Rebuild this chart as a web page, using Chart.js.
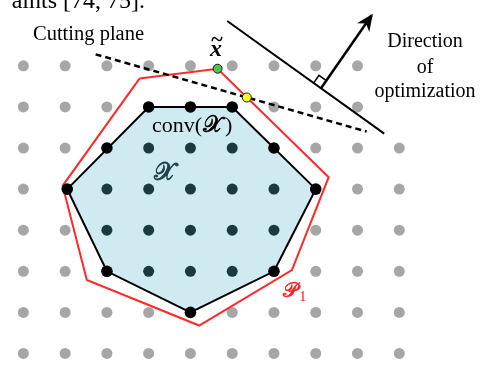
<!DOCTYPE html>
<html>
<head>
<meta charset="utf-8">
<script src="https://cdn.jsdelivr.net/npm/chart.js@4.4.0/dist/chart.umd.min.js"></script>
<style>
  html, body { margin: 0; padding: 0; background: #ffffff; }
  canvas { display: block; }
</style>
</head>
<body>
<canvas id="c" width="480" height="367"></canvas>
<script>
// Integer lattice, (column, row) with rows counted downward.
const outsidePoints = [
  [0,0],[1,0],[2,0],[3,0],[4,0],[5,0],[6,0],[7,0],[8,0],
  [0,1],[1,1],[2,1],[6,1],[7,1],[8,1],
  [0,2],[1,2],[7,2],[8,2],[9,2],
  [0,3],[8,3],[9,3],
  [0,4],[1,4],[7,4],[8,4],[9,4],
  [0,5],[1,5],[7,5],[8,5],[9,5],
  [0,6],[1,6],[2,6],[3,6],[5,6],[6,6],[7,6],[8,6],[9,6],
  [0,7],[1,7],[2,7],[3,7],[4,7],[5,7],[6,7],[7,7],[8,7],[9,7]
];
// Feasible integer points strictly inside the hull
const interiorPoints = [
  [3,2],[4,2],[5,2],
  [2,3],[3,3],[4,3],[5,3],[6,3],
  [2,4],[3,4],[4,4],[5,4],[6,4],
  [3,5],[4,5],[5,5]
];
// Feasible integer points on the boundary of conv(X)
const boundaryPoints = [[3,1],[4,1],[5,1],[6,2],[7,3],[6,5],[4,6],[2,5],[1.05,3],[2,2]];

// conv(X) outline (closed)
const hullX = [3, 5, 7, 6, 4, 2, 1.05, 3];
const hullY = [1, 1, 3, 5, 6, 5, 3, 1];

// LP relaxation polytope P1 (closed)
const relaxX = [2.78, 4.65, 7.31, 6.43, 4.21, 1.52, 0.94, 2.78];
const relaxY = [0.31, 0.07, 2.71, 4.97, 6.32, 5.21, 2.92, 0.31];

// LP optimum x~ and the point where the cut meets P1
const lpOptimum = [4.65, 0.07];
const cutHit = [5.35, 0.77];

// Cutting plane, objective level line, optimization direction
const cutX = [1.73, 8.22];
const cutY = [-0.28, 1.60];
const levelX = [4.88, 8.64];
const levelY = [-1.09, 1.65];
const arrowX = [7.13, 8.34];
const arrowY = [0.54, -1.23];

const pairs = arr => arr.map(([x, y]) => ({x, y}));
const zipXY = (xs, ys) => xs.map((x, i) => ({x, y: ys[i]}));

const SERIF = '"Liberation Serif", "DejaVu Serif", serif';
const MATH = '"DejaVu Serif", "DejaVu Sans", "Liberation Serif", serif';

const annotations = {
  id: 'annotations',
  afterDatasetsDraw(chart) {
    const ctx = chart.ctx;
    const sx = chart.scales.x, sy = chart.scales.y;
    const P = (x, y) => [sx.getPixelForValue(x), sy.getPixelForValue(y)];

    // arrow head
    const [bx, by] = P(arrowX[0], arrowY[0]);
    const [tx, ty] = P(arrowX[1], arrowY[1]);
    const ang = Math.atan2(ty - by, tx - bx);
    ctx.save();
    ctx.translate(tx, ty);
    ctx.rotate(ang);
    ctx.beginPath();
    ctx.moveTo(2, 0);
    ctx.lineTo(-15, -7.5);
    ctx.lineTo(-10, 0);
    ctx.lineTo(-15, 7.5);
    ctx.closePath();
    ctx.fillStyle = '#000';
    ctx.fill();
    ctx.restore();

    // right-angle mark between the level line and the direction
    const [lx, ly] = P(levelX[0], levelY[0]);
    let ux = lx - bx, uy = ly - by;
    let n = Math.hypot(ux, uy); ux /= n; uy /= n;
    let vx = tx - bx, vy = ty - by;
    n = Math.hypot(vx, vy); vx /= n; vy /= n;
    const s = 9;
    ctx.save();
    ctx.beginPath();
    ctx.moveTo(bx + s * ux, by + s * uy);
    ctx.lineTo(bx + s * ux + s * vx, by + s * uy + s * vy);
    ctx.lineTo(bx + s * vx, by + s * vy);
    ctx.strokeStyle = '#000';
    ctx.lineWidth = 1.5;
    ctx.stroke();
    ctx.restore();

    // labels
    ctx.save();
    ctx.fillStyle = '#000';
    ctx.textBaseline = 'alphabetic';
    ctx.textAlign = 'right';
    ctx.font = '24px ' + SERIF;
    ctx.fillText('aints [74, 75].', 145, 8);

    ctx.textAlign = 'left';
    ctx.font = '20.5px ' + SERIF;
    ctx.fillText('Cutting plane', 33, 40);

    ctx.textAlign = 'center';
    ctx.font = '20px ' + SERIF;
    ctx.fillText('Direction', 425, 47);
    ctx.fillText('of', 425, 73);
    ctx.fillText('optimization', 425, 97);

    // x~
    ctx.font = 'italic bold 24px ' + SERIF;
    ctx.fillText('x', 216, 56);
    ctx.font = 'bold 22px ' + SERIF;
    ctx.fillText('~', 217, 46);

    // conv(X)
    ctx.textAlign = 'left';
    ctx.font = '22px ' + SERIF;
    ctx.fillText('conv(', 152, 132);
    let w = ctx.measureText('conv(').width;
    ctx.font = '23px ' + MATH;
    ctx.strokeStyle = '#000';
    ctx.lineWidth = 0.6;
    ctx.fillText('\u{1D4B3}', 153 + w, 132);
    ctx.strokeText('\u{1D4B3}', 153 + w, 132);
    let w2 = ctx.measureText('\u{1D4B3}').width;
    ctx.font = '22px ' + SERIF;
    ctx.fillText(')', 155 + w + w2, 132);

    // X
    ctx.fillStyle = '#1d3f47';
    ctx.strokeStyle = '#1d3f47';
    ctx.lineWidth = 0.8;
    ctx.font = '25px ' + MATH;
    ctx.textAlign = 'center';
    ctx.fillText('\u{1D4B3}', 165, 180);
    ctx.strokeText('\u{1D4B3}', 165, 180);

    // P1
    ctx.fillStyle = '#ff2020';
    ctx.strokeStyle = '#ff2020';
    ctx.lineWidth = 0.6;
    ctx.textAlign = 'left';
    ctx.font = '21px ' + MATH;
    ctx.fillText('\u{1D4AB}', 283, 297);
    ctx.strokeText('\u{1D4AB}', 283, 297);
    ctx.font = '15px ' + SERIF;
    ctx.fillText('1', 299, 301);
    ctx.restore();
  }
};

new Chart(document.getElementById('c'), {
  type: 'scatter',
  data: {
    datasets: [
      { data: [ {x: lpOptimum[0], y: lpOptimum[1]} ], pointRadius: 4.5, pointBackgroundColor: '#55c24a',
        pointBorderColor: '#1a1a1a', pointBorderWidth: 1, showLine: false, order: 0 },
      { data: [ {x: cutHit[0], y: cutHit[1]} ], pointRadius: 4.5, pointBackgroundColor: '#ffff1a',
        pointBorderColor: '#1a1a1a', pointBorderWidth: 1, showLine: false, order: 1 },
      { data: pairs(boundaryPoints), pointRadius: 5.8, pointBackgroundColor: '#000000',
        pointBorderWidth: 0, showLine: false, order: 2 },
      { data: pairs(interiorPoints), pointRadius: 5.5, pointBackgroundColor: '#1b3a40',
        pointBorderWidth: 0, showLine: false, order: 3 },
      { data: zipXY(arrowX, arrowY), showLine: true, borderColor: '#000', borderWidth: 2.5,
        pointRadius: 0, order: 4 },
      { data: zipXY(levelX, levelY), showLine: true, borderColor: '#000', borderWidth: 2,
        pointRadius: 0, order: 5 },
      { data: zipXY(cutX, cutY), showLine: true, borderColor: '#000', borderWidth: 2.5,
        borderDash: [6, 4], pointRadius: 0, order: 6 },
      { data: zipXY(relaxX, relaxY), showLine: true, borderColor: '#ff2a2a', borderWidth: 2,
        pointRadius: 0, order: 7 },
      { data: zipXY(hullX, hullY), showLine: true, borderColor: '#000', borderWidth: 2,
        backgroundColor: '#cfeaf0', fill: 'shape', pointRadius: 0, order: 8 },
      { data: pairs(outsidePoints), pointRadius: 5.5, pointBackgroundColor: '#a6a6a6',
        pointBorderWidth: 0, showLine: false, order: 9 }
    ]
  },
  options: {
    responsive: false,
    animation: false,
    events: [],
    layout: { padding: 0 },
    plugins: { legend: { display: false }, tooltip: { enabled: false } },
    elements: { line: { tension: 0, borderJoinStyle: 'miter' } },
    scales: {
      x: { type: 'linear', min: -0.4206, max: 10.794, display: false },
      y: { type: 'linear', reverse: true, min: -1.461, max: 7.188, display: false }
    }
  },
  plugins: [annotations]
});
</script>
</body>
</html>
